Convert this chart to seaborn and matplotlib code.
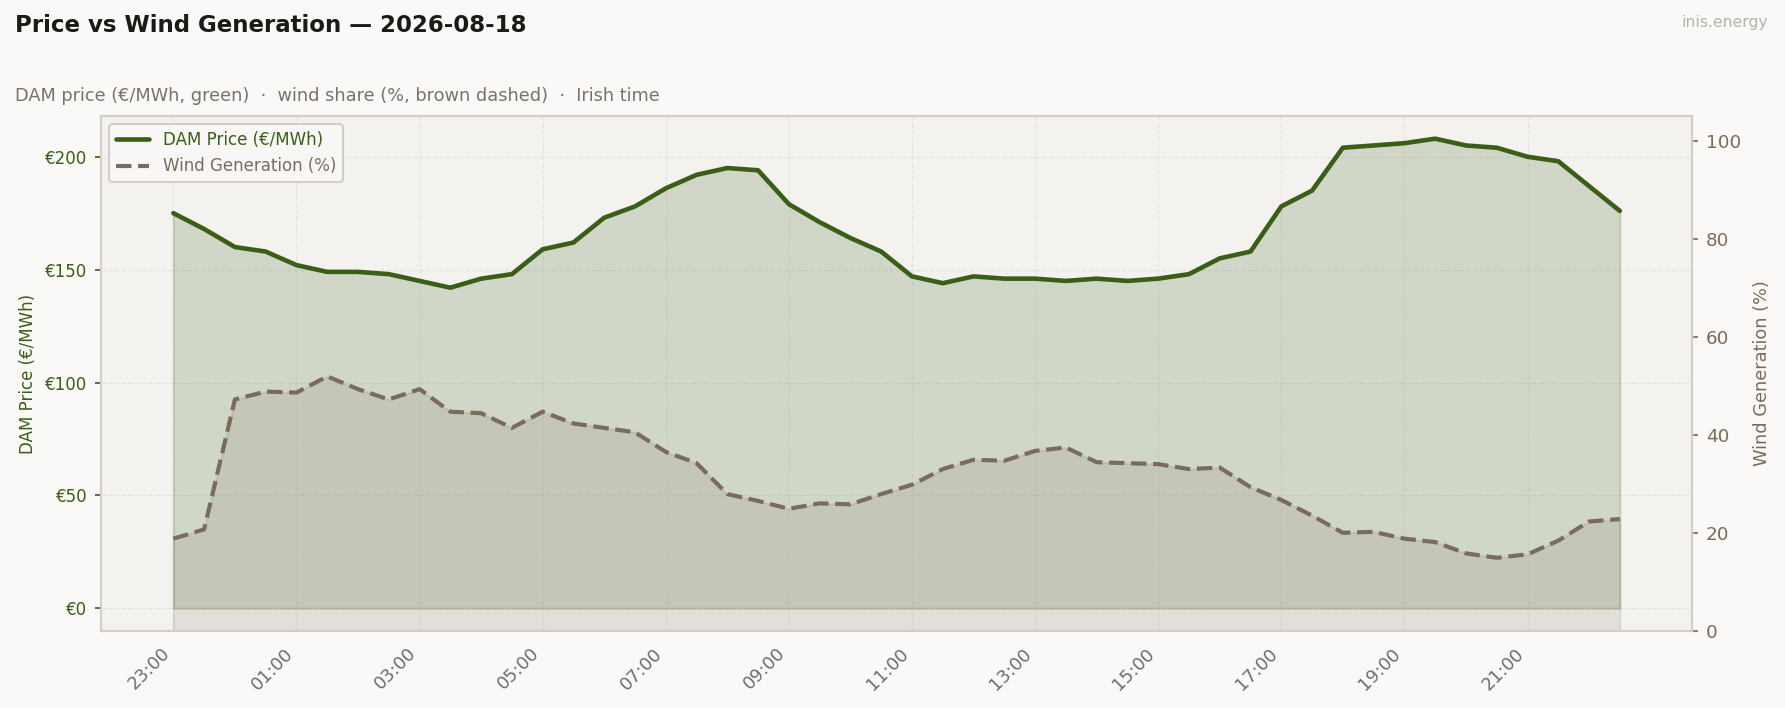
import numpy as np
import pandas as pd
import seaborn as sns
import matplotlib.pyplot as plt
import matplotlib.dates as mdates
from matplotlib.ticker import FuncFormatter

# half-hourly DAM price (EUR/MWh), 23:00 -> 22:30
price = [175, 168, 160, 158, 152, 149, 149, 148, 145, 142, 146, 148,
         159, 162, 173, 178, 186, 192, 195, 194, 179, 171, 164, 158,
         147, 144, 147, 146, 146, 145, 146, 145, 146, 148, 155, 158,
         178, 185, 204, 205, 206, 208, 205, 204, 200, 198, 187, 176]

# wind share of generation (%)
wind = [18.8, 20.7, 47.2, 48.8, 48.6, 51.9, 49.3, 47.2, 49.3, 44.7, 44.4, 41.4,
        44.7, 42.3, 41.4, 40.5, 36.5, 34.2, 27.9, 26.5, 24.9, 26.0, 25.8, 27.9,
        29.8, 33.0, 34.9, 34.7, 36.7, 37.4, 34.4, 34.2, 34.0, 33.0, 33.3, 29.3,
        26.7, 23.5, 20.0, 20.2, 18.8, 18.1, 15.8, 14.9, 15.6, 18.4, 22.3, 22.8]

times = pd.date_range("2026-08-17 23:00", periods=len(price), freq="30min")
df = pd.DataFrame({"time": times, "price": price, "wind": wind})

GREEN = "#3b5e17"
BROWN = "#7b6b5c"
BG = "#faf9f7"
AX_BG = "#f3f2ef"
EDGE = "#d3cec7"

sns.set_style("white")
plt.rcParams['font.family'] = ['DejaVu Sans']

fig, ax = plt.subplots(figsize=(11.9, 4.72), dpi=150)
fig.patch.set_facecolor(BG)
ax.set_facecolor(AX_BG)
fig.subplots_adjust(left=0.0566, right=0.948, top=0.836, bottom=0.109)

ax.fill_between(df["time"], 0, df["price"], color=GREEN, alpha=0.18, zorder=1)
sns.lineplot(data=df, x="time", y="price", ax=ax, color=GREEN, linewidth=2.2,
             label="DAM Price (€/MWh)", legend=False, zorder=3)

ax2 = ax.twinx()
ax2.fill_between(df["time"], 0, df["wind"], color=BROWN, alpha=0.14, zorder=1)
sns.lineplot(data=df, x="time", y="wind", ax=ax2, color=BROWN, linewidth=2.0,
             linestyle="--", label="Wind Generation (%)", legend=False, zorder=3)

ax.set_ylim(-10, 218)
ax2.set_ylim(0, 105)
ax.set_yticks([0, 50, 100, 150, 200])
ax.yaxis.set_major_formatter(FuncFormatter(lambda v, p: f"€{v:.0f}"))
ax2.set_yticks([0, 20, 40, 60, 80, 100])

ax.margins(x=0.05)
ax.set_xticks(df["time"][::4])
ax.xaxis.set_major_formatter(mdates.DateFormatter("%H:%M"))

ax.grid(True, color="#e6e3df", linestyle="--", linewidth=0.6)
ax.set_axisbelow(True)

ax.set_xlabel("")
ax.set_ylabel("DAM Price (€/MWh)", color=GREEN, fontsize=8)
ax2.set_ylabel("Wind Generation (%)", color=BROWN, fontsize=8.5, labelpad=6)

ax.tick_params(axis="y", colors=GREEN, labelsize=8, length=3, width=0.8)
ax.tick_params(axis="x", colors="#6e6e6e", labelsize=8.5, length=3, width=0.8)
ax2.tick_params(axis="y", colors=BROWN, labelsize=8.8, length=3, width=0.8)
plt.setp(ax.get_xticklabels(), rotation=45, ha="right")

for a in (ax, ax2):
    for s in a.spines.values():
        s.set_color(EDGE)
        s.set_linewidth(1.0)

h1, l1 = ax.get_legend_handles_labels()
h2, l2 = ax2.get_legend_handles_labels()
leg = ax2.legend(h1 + h2, l1 + l2, loc="upper left", fontsize=8,
                 frameon=True, facecolor="#f8f7f5", edgecolor=EDGE, framealpha=1)
leg.texts[0].set_color(GREEN)
leg.texts[1].set_color(BROWN)
leg.set_zorder(10)

fig.text(15 / 1785, 1 - 25 / 708, "Price vs Wind Generation — 2026-08-18",
         fontsize=11, fontweight="bold", color="#1c1a17", va="center")
fig.text(15 / 1785, 1 - 96 / 708,
         "DAM price (€/MWh, green)  ·  wind share (%, brown dashed)  ·  Irish time",
         fontsize=8.5, color="#77726c", va="center")
fig.text(1768 / 1785, 1 - 22 / 708, "inis.energy", fontsize=7.5,
         color="#b5b2ad", ha="right", va="center")

fig.savefig("out.png", dpi=150, facecolor=BG)
